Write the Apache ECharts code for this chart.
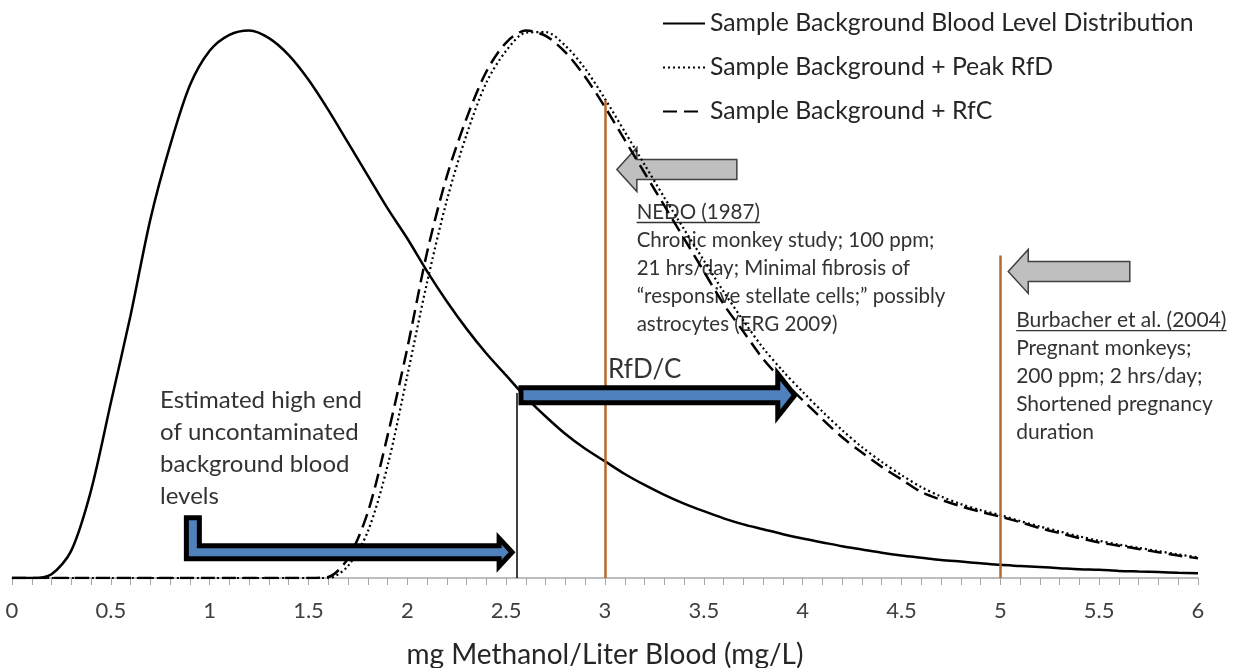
<!DOCTYPE html>
<html>
<head>
<meta charset="utf-8">
<script src="https://cdn.jsdelivr.net/npm/echarts@6/dist/echarts.min.js"></script>
<style>
  html, body { margin: 0; padding: 0; background: #fff; }
  #chart { width: 1242px; height: 668px; }
</style>
</head>
<body>
<div id="chart"></div>
<script>
// x positions (mg/L)
const xValues = [
  0, 0.1, 0.2, 0.3, 0.4, 0.5, 0.6, 0.7, 0.8, 0.9,
  1, 1.1, 1.2, 1.3, 1.4, 1.5, 1.6, 1.7, 1.8, 1.9,
  2, 2.1, 2.2, 2.3, 2.4, 2.5, 2.6, 2.7, 2.8, 2.9,
  3, 3.1, 3.2, 3.3, 3.4, 3.5, 3.6, 3.7, 3.8, 3.9,
  4, 4.1, 4.2, 4.3, 4.4, 4.5, 4.6, 4.7, 4.8, 4.9,
  5, 5.1, 5.2, 5.3, 5.4, 5.5, 5.6, 5.7, 5.8, 5.9,
  6
];
// relative frequency (peak = 1)
const background = [
  0, 0, 0.007, 0.05, 0.16, 0.32, 0.48, 0.655, 0.79, 0.9,
  0.963, 0.992, 1, 0.986, 0.955, 0.91, 0.855, 0.795, 0.735, 0.675,
  0.62, 0.56, 0.505, 0.455, 0.41, 0.37, 0.33, 0.295, 0.263, 0.236,
  0.213, 0.19, 0.17, 0.152, 0.136, 0.122, 0.109, 0.098, 0.089, 0.08,
  0.072, 0.065, 0.058, 0.052, 0.046, 0.041, 0.037, 0.033, 0.03, 0.027,
  0.024, 0.022, 0.02, 0.018, 0.016, 0.015, 0.013, 0.012, 0.011, 0.0095,
  0.0085
];
const peakRfD = [
  0, 0, 0, 0, 0, 0, 0, 0, 0, 0,
  0, 0, 0, 0, 0, 0, 0, 0.022, 0.085, 0.205,
  0.37, 0.54, 0.69, 0.81, 0.905, 0.963, 0.996, 0.997, 0.972, 0.93,
  0.875, 0.815, 0.755, 0.695, 0.637, 0.58, 0.523, 0.47, 0.42, 0.378,
  0.34, 0.304, 0.27, 0.239, 0.212, 0.188, 0.166, 0.149, 0.135, 0.124,
  0.115, 0.104, 0.094, 0.085, 0.076, 0.068, 0.061, 0.055, 0.049, 0.043,
  0.038
];
const rfC = [
  0, 0, 0, 0, 0, 0, 0, 0, 0, 0,
  0, 0, 0, 0, 0, 0, 0.002, 0.036, 0.12, 0.26,
  0.42, 0.595, 0.734, 0.84, 0.925, 0.978, 1, 0.99, 0.96, 0.915,
  0.86, 0.8, 0.74, 0.68, 0.62, 0.56, 0.5, 0.45, 0.4, 0.36,
  0.325, 0.29, 0.257, 0.229, 0.203, 0.18, 0.157, 0.143, 0.131, 0.121,
  0.112, 0.102, 0.091, 0.082, 0.073, 0.065, 0.059, 0.053, 0.047, 0.041,
  0.036
];
const seriesNames = [
  'Sample Background Blood Level Distribution',
  'Sample Background + Peak RfD',
  'Sample Background + RfC'
];
// study lines: x position and top of the line
const studyLines = [[3, 0.872], [5, 0.589]];
const highEnd = [2.555, 0.338];

const FONT = 'Lato';
const TEXT = '#333';
const ORANGE = '#b4692f';
const BLUE = '#4f81bd';

const toPairs = ys => xValues.map((x, i) => [x, ys[i]]);

const chart = echarts.init(document.getElementById('chart'));

chart.setOption({
  animation: false,
  grid: { left: 12, right: 44, top: 25, bottom: 90, outerBoundsMode: 'none', containLabel: false },
  legend: {
    orient: 'vertical',
    left: 662,
    top: 11,
    padding: 0,
    itemWidth: 42,
    itemHeight: 14,
    itemGap: 19,
    itemStyle: { opacity: 0 },
    textStyle: { fontFamily: FONT, fontSize: 24.8, color: '#262626' },
    data: seriesNames
  },
  xAxis: {
    type: 'value',
    min: 0,
    max: 6,
    interval: 0.5,
    axisLine: { lineStyle: { color: '#a6a6a6', width: 1.5 } },
    axisTick: { length: 7, lineStyle: { color: '#a6a6a6' } },
    minorTick: { show: true, splitNumber: 5, length: 7, lineStyle: { color: '#a6a6a6' } },
    splitLine: { show: false },
    axisLabel: { fontFamily: FONT, fontSize: 22, color: '#404040', margin: 22 },
    name: 'mg Methanol/Liter Blood (mg/L)',
    nameLocation: 'middle',
    nameGap: 63,
    nameTextStyle: { fontFamily: FONT, fontSize: 28, color: '#262626' }
  },
  yAxis: { type: 'value', min: 0, max: 1.01, show: false, splitLine: { show: false } },
  series: [
    {
      name: seriesNames[0], type: 'line', data: toPairs(background),
      smooth: 0.3, symbol: 'none', z: 3,
      lineStyle: { color: '#000', width: 2.5 },
      markLine: {
        silent: true, symbol: ['none', 'none'], label: { show: false },
        data: [
          [{ coord: [highEnd[0], 0], lineStyle: { color: '#000', width: 1.5, type: 'solid' } }, { coord: highEnd }],
          ...studyLines.map(([x, top]) => [
            { coord: [x, 0], lineStyle: { color: ORANGE, width: 2.5, type: 'solid' } },
            { coord: [x, top] }
          ])
        ]
      }
    },
    {
      name: seriesNames[1], type: 'line', data: toPairs(peakRfD),
      smooth: 0.3, symbol: 'none', z: 3,
      lineStyle: { color: '#000', width: 2.2, type: [2, 3] }
    },
    {
      name: seriesNames[2], type: 'line', data: toPairs(rfC),
      smooth: 0.3, symbol: 'none', z: 3,
      lineStyle: { color: '#000', width: 2.5, type: [14, 7] }
    }
  ]
});

// annotations anchored on data coordinates
const px = (x, y) => chart.convertToPixel({ gridIndex: 0 }, [x, y]);
const ctx = document.createElement('canvas').getContext('2d');
const measure = (str, size) => { ctx.font = size + 'px ' + FONT; return ctx.measureText(str).width; };

function rightArrow(x0, x1, y, h, H, L) {
  return [[x0, y - h], [x1 - L, y - h], [x1 - L, y - H], [x1, y], [x1 - L, y + H], [x1 - L, y + h], [x0, y + h]];
}
function leftArrow(tip, tail, y, h, H, L) {
  return [[tip, y], [tip + L, y - H], [tip + L, y - h], [tail, y - h], [tail, y + h], [tip + L, y + h], [tip + L, y + H]];
}
function textBlock(lines, x, y, size, lh, underline) {
  const [tx, ty] = px(x, y);
  const items = [{
    type: 'text', z: 0,
    style: { text: lines.join('\n'), x: tx, y: ty - lh / 2, fontSize: size, fontFamily: FONT, fill: TEXT, lineHeight: lh, verticalAlign: 'top' }
  }];
  if (underline) {
    const w = measure(lines[0], size);
    const uy = ty + size * 0.5;
    items.push({ type: 'line', z: 0, shape: { x1: tx, y1: uy, x2: tx + w, y2: uy }, style: { stroke: TEXT, lineWidth: 1.3 } });
  }
  return items;
}

const graphics = [];

// bent arrow: background high end
{
  const [sx, sTop] = px(0.915, 0.11);
  const [tx, yc] = px(2.53, 0.047);
  const h = 6.5, H = 14, L = 13;
  graphics.push({
    type: 'polygon', z: 10,
    shape: { points: [[sx - h, sTop], [sx + h, sTop], [sx + h, yc - h], [tx - L, yc - h], [tx - L, yc - H], [tx, yc], [tx - L, yc + H], [tx - L, yc + h], [sx - h, yc + h]] },
    style: { fill: BLUE, stroke: '#000', lineWidth: 5, lineJoin: 'miter' }
  });
}
// RfD/C arrow
{
  const [x0, y] = px(highEnd[0] + 0.02, 0.334);
  const [x1] = px(3.96, 0.334);
  graphics.push({
    type: 'polygon', z: 10,
    shape: { points: rightArrow(x0, x1, y, 7.5, 21.5, 17) },
    style: { fill: BLUE, stroke: '#000', lineWidth: 5, lineJoin: 'miter' }
  });
}
// grey arrows pointing at the study lines
[[3.06, 3.667, 0.746], [5.04, 5.655, 0.56]].forEach(([tip, tail, yv]) => {
  const [t, y] = px(tip, yv);
  const [e] = px(tail, yv);
  graphics.push({
    type: 'polygon', z: 0,
    shape: { points: leftArrow(t, e, y, 10, 22, 20) },
    style: { fill: '#bfbfbf', stroke: '#404040', lineWidth: 1.5 }
  });
});

graphics.push(...textBlock(['Estimated high end', 'of uncontaminated', 'background blood', 'levels'], 0.749, 0.325, 24, 32));
graphics.push(...textBlock(['RfD/C'], 3.015, 0.38, 26, 30));
graphics.push(...textBlock([
  'NEDO (1987)',
  'Chronic monkey study; 100 ppm;',
  '21 hrs/day; Minimal fibrosis of',
  '\u201cresponsive stellate cells;\u201d possibly',
  'astrocytes (ERG 2009)'
], 3.16, 0.668, 20.5, 28, true));
graphics.push(...textBlock([
  'Burbacher et al. (2004)',
  'Pregnant monkeys;',
  '200 ppm; 2 hrs/day;',
  'Shortened pregnancy',
  'duration'
], 5.08, 0.471, 21, 28, true));

chart.setOption({ graphic: graphics });
</script>
</body>
</html>
